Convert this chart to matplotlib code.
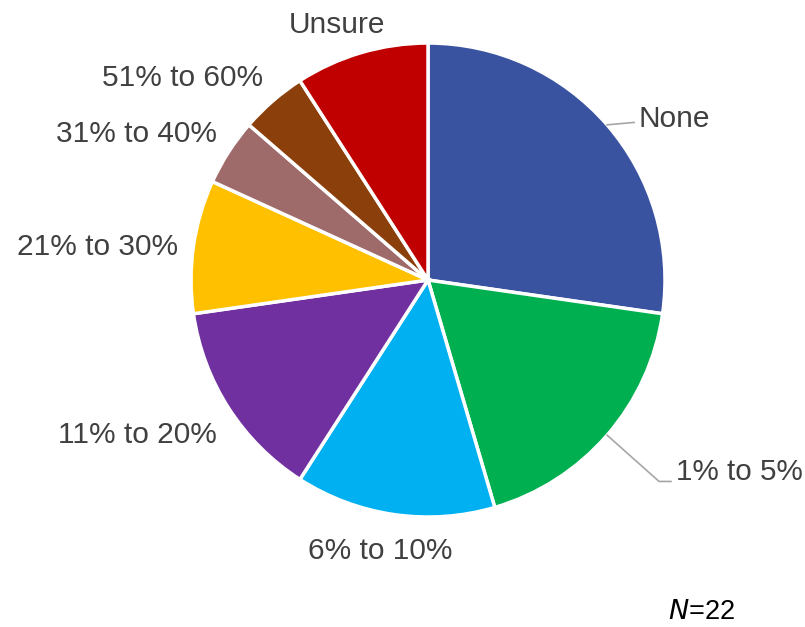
import numpy as np
import matplotlib
matplotlib.use("Agg")
import matplotlib.pyplot as plt

# survey answers, N=22
categories = ["None", "1% to 5%", "6% to 10%", "11% to 20%",
              "21% to 30%", "31% to 40%", "51% to 60%", "Unsure"]
counts = [6, 4, 3, 3, 2, 1, 1, 2]
colors = ["#3953A0", "#00B050", "#00B0F0", "#7030A0",
          "#FFC000", "#9E6B6A", "#8B400C", "#C00000"]

plt.rcParams['font.family'] = ['Liberation Sans', 'DejaVu Sans']

fig = plt.figure(figsize=(8.05, 6.27), dpi=100)
ax = fig.add_axes([0.2373, 0.1754, 0.5888, 0.756])

wedges, _ = ax.pie(counts, colors=colors, startangle=90, counterclock=False,
                   radius=1, wedgeprops=dict(edgecolor="white", linewidth=2.5))
ax.set_xlim(-1, 1)
ax.set_ylim(-1, 1)
ax.set_aspect("equal")
ax.axis("off")

# label placement: (radius factor, angle tweak, ha)
label_style = {
    "None":       (1.10, 0, "left"),
    "1% to 5%":   (1.25, 0, "left"),
    "6% to 10%":  (1.15, -2, "center"),
    "11% to 20%": (1.10, 3, "right"),
    "21% to 30%": (1.065, 0, "right"),
    "31% to 40%": (1.09, -2.5, "right"),
    "51% to 60%": (1.11, -2, "right"),
    "Unsure":     (1.155, 3, "center"),
}

label_color = "#404040"
line_color = "#A6A6A6"
dy = -0.012  # small downward nudge of all labels
for w, name in zip(wedges, categories):
    mid = np.deg2rad((w.theta1 + w.theta2) / 2)
    r, tweak, ha = label_style[name]
    ang = mid + np.deg2rad(tweak)
    if name == "None":
        x0, y0 = np.cos(mid), np.sin(mid)
        tx, ty = 0.89, 0.665
        ax.plot([x0, tx - 0.02], [y0, ty], color=line_color, lw=1.2, clip_on=False)
        ax.text(tx, ty + 0.025 + dy, name, ha="left", va="center", fontsize=21.5,
                color=label_color)
    elif name == "1% to 5%":
        x0, y0 = np.cos(mid), np.sin(mid)
        ax.plot([x0, 0.975, 1.025], [y0, -0.85, -0.85], color=line_color,
                lw=1.2, clip_on=False)
        ax.text(1.045, -0.80 + dy, name, ha="left", va="center", fontsize=21.3,
                color=label_color)
    else:
        ax.text(r * np.cos(ang), r * np.sin(ang) + dy, name, ha=ha, va="center",
                fontsize=21.5, color=label_color)

fig.text(0.872, 0.024, r"$\it{N}$=22", ha="center", va="center", fontsize=19.5,
         color="black")

fig.savefig("out.png", dpi=100)
